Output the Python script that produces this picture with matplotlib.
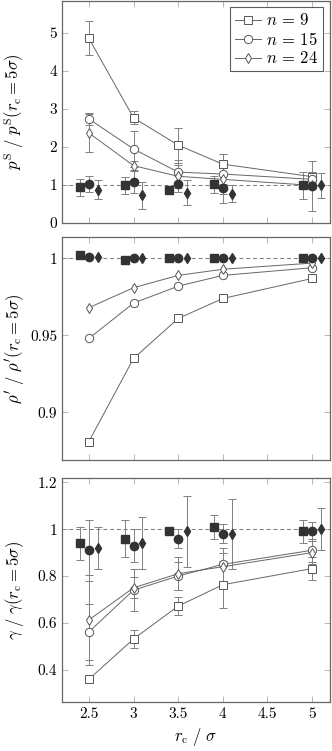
import numpy as np
import matplotlib
matplotlib.use('Agg')
import matplotlib.pyplot as plt
from matplotlib.ticker import FuncFormatter

plt.rcParams['font.family'] = 'serif'
plt.rcParams['font.serif'] = ['cmr10', 'DejaVu Serif']
plt.rcParams['mathtext.fontset'] = 'cm'
plt.rcParams['axes.formatter.use_mathtext'] = True
plt.rcParams['font.size'] = 10

# cutoff radii
rc = np.array([2.5, 3.0, 3.5, 4.0, 5.0])
labels = [r'$n\,=\,9$', r'$n\,=\,15$', r'$n\,=\,24$']

# surface pressure ratio (open: n = 9, 15, 24), errors
ps_open = [[4.86, 2.77, 2.05, 1.55, 1.22],
           [2.74, 1.95, 1.34, 1.29, 1.15],
           [2.37, 1.51, 1.23, 1.15, 0.99]]
ps_open_err = [[0.45, 0.17, 0.46, 0.28, 0.12],
               [0.15, 0.47, 0.32, 0.53, 0.10],
               [0.50, 0.12, 0.30, 0.12, 0.10]]
# filled (reference) values
ps_fill = [[0.94, 0.99, 0.88, 1.02, 0.99],
           [1.04, 1.08, 1.02, 0.93, 0.97],
           [0.87, 0.73, 0.80, 0.77, 1.00]]
ps_fill_err = [[0.23, 0.22, 0.05, 0.23, 0.35],
               [0.21, 0.30, 0.21, 0.40, 0.65],
               [0.25, 0.36, 0.33, 0.22, 0.33]]

# liquid density ratio
rho_open = [[0.881, 0.935, 0.961, 0.974, 0.987],
            [0.948, 0.971, 0.982, 0.989, 0.994],
            [0.968, 0.981, 0.989, 0.993, 0.997]]
rho_fill = [[1.002, 0.999, 1.000, 1.000, 1.000],
            [1.001, 1.000, 1.000, 1.000, 1.000],
            [1.001, 1.000, 1.000, 1.000, 1.000]]

# surface tension ratio
gam_open = [[0.36, 0.532, 0.672, 0.763, 0.832],
            [0.562, 0.74, 0.80, 0.85, 0.91],
            [0.613, 0.75, 0.81, 0.84, 0.90]]
gam_open_err = [[0.01, 0.04, 0.04, 0.10, 0.05],
                [0.12, 0.09, 0.06, 0.07, 0.05],
                [0.19, 0.045, 0.07, 0.06, 0.05]]
gam_fill = [[0.94, 0.96, 0.99, 1.01, 0.99],
            [0.91, 0.93, 0.96, 0.98, 0.99],
            [0.92, 0.94, 0.99, 0.98, 1.00]]
gam_fill_err = [[0.07, 0.08, 0.01, 0.05, 0.05],
                [0.13, 0.07, 0.04, 0.04, 0.04],
                [0.09, 0.11, 0.15, 0.15, 0.09]]

markers = ['s', 'o', 'd']
msizes = [6, 6, 5]
shifts = [-0.1, 0.0, 0.1]
line_col = '#666666'
fill_col = '#333333'
err_col = '#808080'

fig = plt.figure(figsize=(3.32, 7.51), dpi=100)
ax1 = fig.add_axes([0.187, 0.703, 0.807, 0.296])
ax2 = fig.add_axes([0.187, 0.3875, 0.807, 0.297])
ax3 = fig.add_axes([0.187, 0.0652, 0.807, 0.298])


def draw(ax, opn, opn_err, fil, fil_err, legend=False):
    ax.axhline(1.0, color='#777777', ls=(0, (4, 3)), lw=0.7, zorder=1)
    for i in range(3):
        ax.plot(rc, opn[i], color=line_col, lw=0.7, marker=markers[i],
                ms=msizes[i], mfc='white', mec='#555555', mew=0.7,
                label=labels[i], zorder=3)
        if opn_err is not None:
            ax.errorbar(rc, opn[i], yerr=opn_err[i], fmt='none',
                        ecolor=err_col, elinewidth=0.7, capsize=3,
                        capthick=0.7, zorder=2)
        x = rc + shifts[i]
        if fil_err is not None:
            ax.errorbar(x, fil[i], yerr=fil_err[i], fmt='none',
                        ecolor=err_col, elinewidth=0.7, capsize=3,
                        capthick=0.7, zorder=2)
        ax.plot(x, fil[i], ls='none', marker=markers[i], ms=msizes[i],
                mfc=fill_col, mec=fill_col, zorder=4)
    ax.set_xlim(2.2, 5.2)
    ax.set_xticks([2.5, 3, 3.5, 4, 4.5, 5])
    ax.tick_params(direction='in', top=True, right=True, length=4,
                   width=0.5, color='#999999', labelsize=11)
    for s in ax.spines.values():
        s.set_color('#666666')
        s.set_linewidth(0.9)
    ax.yaxis.set_major_formatter(FuncFormatter(lambda v, p: '%g' % v))
    ax.xaxis.set_major_formatter(FuncFormatter(lambda v, p: '%g' % v))
    if legend:
        leg = ax.legend(loc='upper right', fontsize=12, fancybox=False,
                        edgecolor='#333333', handlelength=1.6,
                        handletextpad=0.3, borderpad=0.3, labelspacing=0.15,
                        borderaxespad=0.4)
        leg.get_frame().set_linewidth(0.8)


draw(ax1, ps_open, ps_open_err, ps_fill, ps_fill_err, legend=True)
ax1.set_ylim(0, 5.85)
ax1.set_yticks([0, 1, 2, 3, 4, 5])
ax1.set_xticklabels([])
ax1.set_ylabel(r'$p^\mathrm{S}\ /\ p^\mathrm{S}(r_\mathrm{c} = 5\sigma)$', fontsize=12)

draw(ax2, rho_open, None, rho_fill, None)
ax2.set_ylim(0.869, 1.014)
ax2.set_yticks([0.9, 0.95, 1.0])
ax2.set_xticklabels([])
ax2.set_ylabel(r"$\rho'\ /\ \rho'(r_\mathrm{c} = 5\sigma)$", fontsize=12)

draw(ax3, gam_open, gam_open_err, gam_fill, gam_fill_err)
ax3.set_ylim(0.263, 1.217)
ax3.set_yticks([0.4, 0.6, 0.8, 1.0, 1.2])
ax3.set_ylabel(r'$\gamma\ /\ \gamma(r_\mathrm{c} = 5\sigma)$', fontsize=12)
ax3.set_xlabel(r'$r_\mathrm{c}\ /\ \sigma$', fontsize=12)

for ax in (ax1, ax2, ax3):
    ax.yaxis.set_label_coords(-0.135, 0.5)

fig.savefig('out.png', dpi=100)
